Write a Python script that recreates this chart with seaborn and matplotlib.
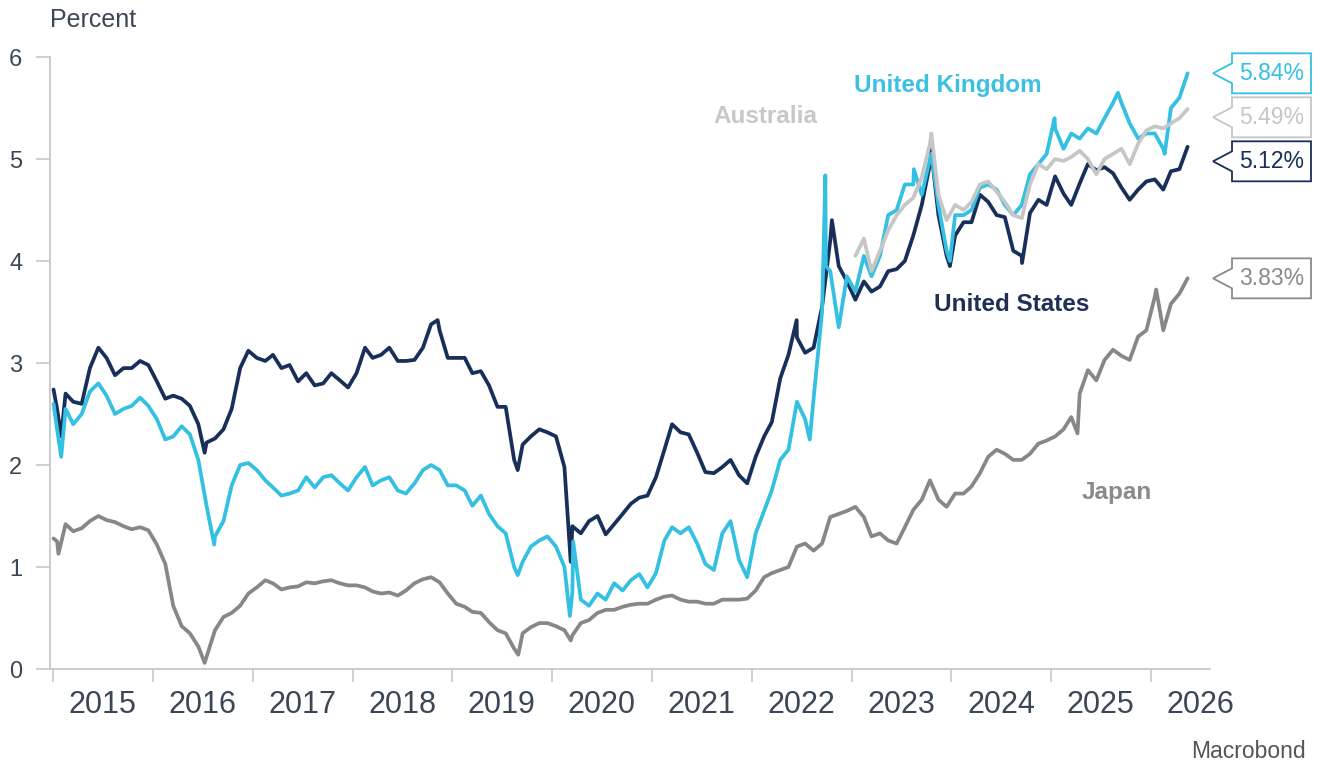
# 30-year government bond yields, 2015 - 2026 (Macrobond style chart)
import pandas as pd
import matplotlib.pyplot as plt
import matplotlib.dates as mdates
from matplotlib.ticker import NullFormatter
from matplotlib.patches import Polygon
from matplotlib.transforms import IdentityTransform
import seaborn as sns

# 1. Data (monthly, mid-month), in percent
months = pd.date_range(start='2015-01-01', periods=137, freq='MS') + pd.Timedelta(days=14)

us_yields = [
    2.55, 2.70, 2.62, 2.60, 2.95, 3.15, 3.05, 2.88, 2.95, 2.95, 3.02, 2.98,  # 2015
    2.82, 2.65, 2.68, 2.65, 2.58, 2.40, 2.22, 2.26, 2.35, 2.55, 2.95, 3.12,  # 2016
    3.05, 3.02, 3.08, 2.95, 2.98, 2.82, 2.90, 2.78, 2.80, 2.90, 2.83, 2.76,  # 2017
    2.90, 3.15, 3.05, 3.08, 3.15, 3.02, 3.02, 3.03, 3.15, 3.38, 3.32, 3.05,  # 2018
    3.05, 3.05, 2.90, 2.92, 2.78, 2.57, 2.57, 2.05, 2.20, 2.28, 2.35, 2.32,  # 2019
    2.28, 1.98, 1.40, 1.33, 1.45, 1.50, 1.32, 1.42, 1.52, 1.62, 1.68, 1.70,  # 2020
    1.88, 2.15, 2.40, 2.32, 2.30, 2.12, 1.93, 1.92, 1.98, 2.05, 1.90, 1.82,  # 2021
    2.08, 2.28, 2.42, 2.85, 3.08, 3.25, 3.10, 3.15, 3.55, 4.20, 3.95, 3.80,  # 2022
    3.62, 3.80, 3.70, 3.75, 3.90, 3.92, 4.00, 4.25, 4.55, 4.95, 4.45, 4.05,  # 2023
    4.25, 4.38, 4.38, 4.65, 4.58, 4.45, 4.43, 4.10, 4.05, 4.47, 4.60, 4.55,  # 2024
    4.83, 4.66, 4.55, 4.76, 4.95, 4.89, 4.92, 4.86, 4.72, 4.60, 4.70, 4.78,  # 2025
    4.80, 4.70, 4.88, 4.90, 5.12,                                            # 2026
]
uk_yields = [
    2.35, 2.55, 2.40, 2.50, 2.72, 2.80, 2.68, 2.50, 2.55, 2.58, 2.66, 2.58,  # 2015
    2.45, 2.25, 2.28, 2.38, 2.30, 2.05, 1.60, 1.30, 1.45, 1.80, 2.00, 2.02,  # 2016
    1.95, 1.85, 1.78, 1.70, 1.72, 1.75, 1.88, 1.78, 1.88, 1.90, 1.82, 1.75,  # 2017
    1.88, 1.98, 1.80, 1.85, 1.88, 1.75, 1.72, 1.82, 1.95, 2.00, 1.95, 1.80,  # 2018
    1.80, 1.75, 1.60, 1.70, 1.52, 1.40, 1.33, 1.00, 1.05, 1.20, 1.26, 1.30,  # 2019
    1.20, 1.00, 0.75, 0.68, 0.62, 0.74, 0.68, 0.84, 0.77, 0.87, 0.93, 0.80,  # 2020
    0.94, 1.26, 1.39, 1.33, 1.39, 1.23, 1.03, 0.97, 1.33, 1.45, 1.07, 0.90,  # 2021
    1.33, 1.55, 1.75, 2.05, 2.15, 2.62, 2.45, 2.65, 3.50, 3.90, 3.35, 3.85,  # 2022
    3.70, 4.05, 3.85, 4.05, 4.45, 4.50, 4.75, 4.75, 4.65, 5.00, 4.55, 4.10,  # 2023
    4.45, 4.45, 4.50, 4.72, 4.75, 4.70, 4.55, 4.45, 4.55, 4.85, 4.95, 5.05,  # 2024
    5.30, 5.10, 5.25, 5.20, 5.30, 5.25, 5.40, 5.55, 5.55, 5.35, 5.20, 5.25,  # 2025
    5.25, 5.10, 5.50, 5.60, 5.84,                                            # 2026
]
jp_yields = [
    1.25, 1.42, 1.35, 1.38, 1.45, 1.50, 1.46, 1.44, 1.40, 1.37, 1.39, 1.36,  # 2015
    1.22, 1.03, 0.62, 0.42, 0.35, 0.22, 0.12, 0.38, 0.51, 0.55, 0.62, 0.74,  # 2016
    0.80, 0.87, 0.84, 0.78, 0.80, 0.81, 0.85, 0.84, 0.86, 0.87, 0.84, 0.82,  # 2017
    0.82, 0.80, 0.76, 0.74, 0.75, 0.72, 0.77, 0.84, 0.88, 0.90, 0.85, 0.74,  # 2018
    0.64, 0.61, 0.56, 0.55, 0.46, 0.38, 0.35, 0.20, 0.35, 0.41, 0.45, 0.45,  # 2019
    0.42, 0.38, 0.33, 0.45, 0.48, 0.55, 0.58, 0.58, 0.61, 0.63, 0.64, 0.64,  # 2020
    0.68, 0.71, 0.72, 0.68, 0.66, 0.66, 0.64, 0.64, 0.68, 0.68, 0.68, 0.69,  # 2021
    0.77, 0.90, 0.94, 0.97, 1.00, 1.20, 1.23, 1.16, 1.23, 1.49, 1.52, 1.55,  # 2022
    1.59, 1.49, 1.30, 1.33, 1.26, 1.23, 1.39, 1.56, 1.66, 1.85, 1.66, 1.59,  # 2023
    1.72, 1.72, 1.79, 1.92, 2.08, 2.15, 2.11, 2.05, 2.05, 2.11, 2.21, 2.24,  # 2024
    2.28, 2.35, 2.47, 2.70, 2.93, 2.83, 3.03, 3.13, 3.07, 3.03, 3.26, 3.32,  # 2025
    3.65, 3.32, 3.58, 3.68, 3.83,                                            # 2026
]
# Australia only starts in 2023 on the chart
au_yields = [
    4.05, 4.22, 3.90, 4.10, 4.30, 4.45, 4.55, 4.62, 4.82, 5.15, 4.65, 4.40,  # 2023
    4.55, 4.50, 4.58, 4.75, 4.78, 4.68, 4.58, 4.45, 4.42, 4.75, 4.95, 4.90,  # 2024
    5.00, 4.98, 5.02, 5.08, 5.00, 4.85, 5.00, 5.05, 5.10, 4.95, 5.15, 5.28,  # 2025
    5.32, 5.30, 5.35, 5.40, 5.49,                                            # 2026
]

# Daily extremes visible on the chart (spikes and troughs between month points)
us_extra_dates = ['2015-01-02', '2015-01-30', '2016-07-08', '2018-11-08', '2019-08-28', '2020-03-09',
                  '2022-06-14', '2022-10-21', '2023-10-19', '2023-12-27', '2024-09-16']
us_extra_vals = [2.74, 2.28, 2.12, 3.42, 1.95, 1.05, 3.42, 4.40, 5.10, 3.95, 3.98]
uk_extra_dates = ['2015-01-02', '2015-01-30', '2016-08-12', '2019-08-28', '2020-03-06', '2020-03-18',
                  '2022-08-01', '2022-09-27', '2022-09-29', '2023-08-17', '2023-10-20', '2023-12-27',
                  '2025-01-13', '2025-09-02', '2026-02-20']
uk_extra_vals = [2.60, 2.08, 1.22, 0.92, 0.52, 1.25, 2.25, 4.84, 3.95, 4.90, 5.05, 4.00, 5.40, 5.65, 5.05]
jp_extra_dates = ['2015-01-02', '2015-01-20', '2016-07-08', '2019-08-30', '2020-03-09', '2025-04-07', '2026-01-20']
jp_extra_vals = [1.28, 1.13, 0.06, 0.14, 0.28, 2.31, 3.72]
au_extra_dates = ['2023-10-20']
au_extra_vals = [5.25]

# 2. Build one long table
def build(name, dates, vals, extra_dates, extra_vals):
    d = pd.DataFrame({'Date': list(dates) + list(pd.to_datetime(extra_dates)),
                      'Yield': list(vals) + list(extra_vals)})
    d['Country'] = name
    return d.sort_values('Date')

df = pd.concat([
    build('Japan', months, jp_yields, jp_extra_dates, jp_extra_vals),
    build('United States', months, us_yields, us_extra_dates, us_extra_vals),
    build('United Kingdom', months, uk_yields, uk_extra_dates, uk_extra_vals),
    build('Australia', months[-len(au_yields):], au_yields, au_extra_dates, au_extra_vals),
], ignore_index=True)

palette = {
    'Japan': '#878787',
    'United States': '#172f59',
    'United Kingdom': '#33c0e2',
    'Australia': '#c6c6c6',
}
hue_order = ['Japan', 'United States', 'United Kingdom', 'Australia']

# 3. Plot
sns.set_style('white')
plt.rcParams['font.family'] = ['Liberation Sans', 'DejaVu Sans']
text_col = '#3b4656'
axis_col = '#c8c8c8'

fig = plt.figure(figsize=(13.21, 7.64), dpi=100)
ax = fig.add_axes([50 / 1321, 95 / 764, 1160 / 1321, 612 / 764])

sns.lineplot(data=df, x='Date', y='Yield', hue='Country', hue_order=hue_order,
             palette=palette, linewidth=2.7, estimator=None, legend=False, ax=ax)

ax.set_xlabel('')
ax.set_ylabel('')
ax.set_ylim(0, 6)
ax.set_yticks(range(0, 7))
ax.set_xlim(pd.Timestamp('2014-12-20'), pd.Timestamp('2026-08-05'))

# Year boundaries as ticks, year names centred between them
ax.xaxis.set_major_locator(mdates.YearLocator())
ax.xaxis.set_major_formatter(NullFormatter())
ax.xaxis.set_minor_locator(mdates.MonthLocator(bymonth=7, bymonthday=1))
ax.xaxis.set_minor_formatter(mdates.DateFormatter('%Y'))
ax.tick_params(axis='x', which='major', bottom=True, length=9, width=1.2, color=axis_col)
ax.tick_params(axis='x', which='minor', bottom=True, length=0, pad=15, labelsize=22, labelcolor=text_col)
ax.tick_params(axis='y', left=True, length=10, width=1.2, color=axis_col, pad=10,
               labelsize=17, labelcolor=text_col)

for side in ['top', 'right']:
    ax.spines[side].set_visible(False)
for side in ['left', 'bottom']:
    ax.spines[side].set_color(axis_col)
    ax.spines[side].set_linewidth(1.3)

# Series names
ax.text(0.774, 0.953, 'United Kingdom', transform=ax.transAxes, ha='center', va='center',
        fontsize=17.5, fontweight='bold', color='#3cc0e2')
ax.text(0.617, 0.902, 'Australia', transform=ax.transAxes, ha='center', va='center',
        fontsize=17.5, fontweight='bold', color='#c8c8c8')
ax.text(0.829, 0.595, 'United States', transform=ax.transAxes, ha='center', va='center',
        fontsize=17.5, fontweight='bold', color='#1f2f55')
ax.text(0.920, 0.288, 'Japan', transform=ax.transAxes, ha='center', va='center',
        fontsize=17.5, fontweight='bold', color='#8a8a8a')

# Last-value call-outs on the right
label_cols = {'United Kingdom': '#33c0e2', 'Australia': '#c6c6c6',
              'United States': '#172f59', 'Japan': '#8a8a8a'}
last_vals = {'United Kingdom': uk_yields[-1], 'Australia': au_yields[-1],
             'United States': us_yields[-1], 'Japan': jp_yields[-1]}
prev_y = None
for name, val in sorted(last_vals.items(), key=lambda kv: -kv[1]):
    yt = ax.transData.transform((0, val))[1]
    if prev_y is not None:
        yt = min(yt, prev_y - 44)
    prev_y = yt
    x0 = ax.bbox.x1 + 3
    xl = x0 + 19
    xr = xl + 79
    h = 40
    verts = [(xl, yt + h / 2), (xr, yt + h / 2), (xr, yt - h / 2), (xl, yt - h / 2),
             (xl, yt - 10), (x0, yt), (xl, yt + 10)]
    fig.add_artist(Polygon(verts, closed=True, facecolor='white', edgecolor=label_cols[name],
                           linewidth=1.3, transform=IdentityTransform(), clip_on=False))
    fig.text((xl + xr) / 2 / fig.bbox.width, yt / fig.bbox.height, f'{val:.2f}%',
             ha='center', va='center', fontsize=16.5, color=label_cols[name])

fig.text(50 / 1321, 1 - 20 / 764, 'Percent', ha='left', va='center', fontsize=18, color=text_col)
fig.text(1306 / 1321, 1 - 752 / 764, 'Macrobond', ha='right', va='center', fontsize=16.5, color='#555555')

fig.savefig('out.png', dpi=100)
print('out.png')
